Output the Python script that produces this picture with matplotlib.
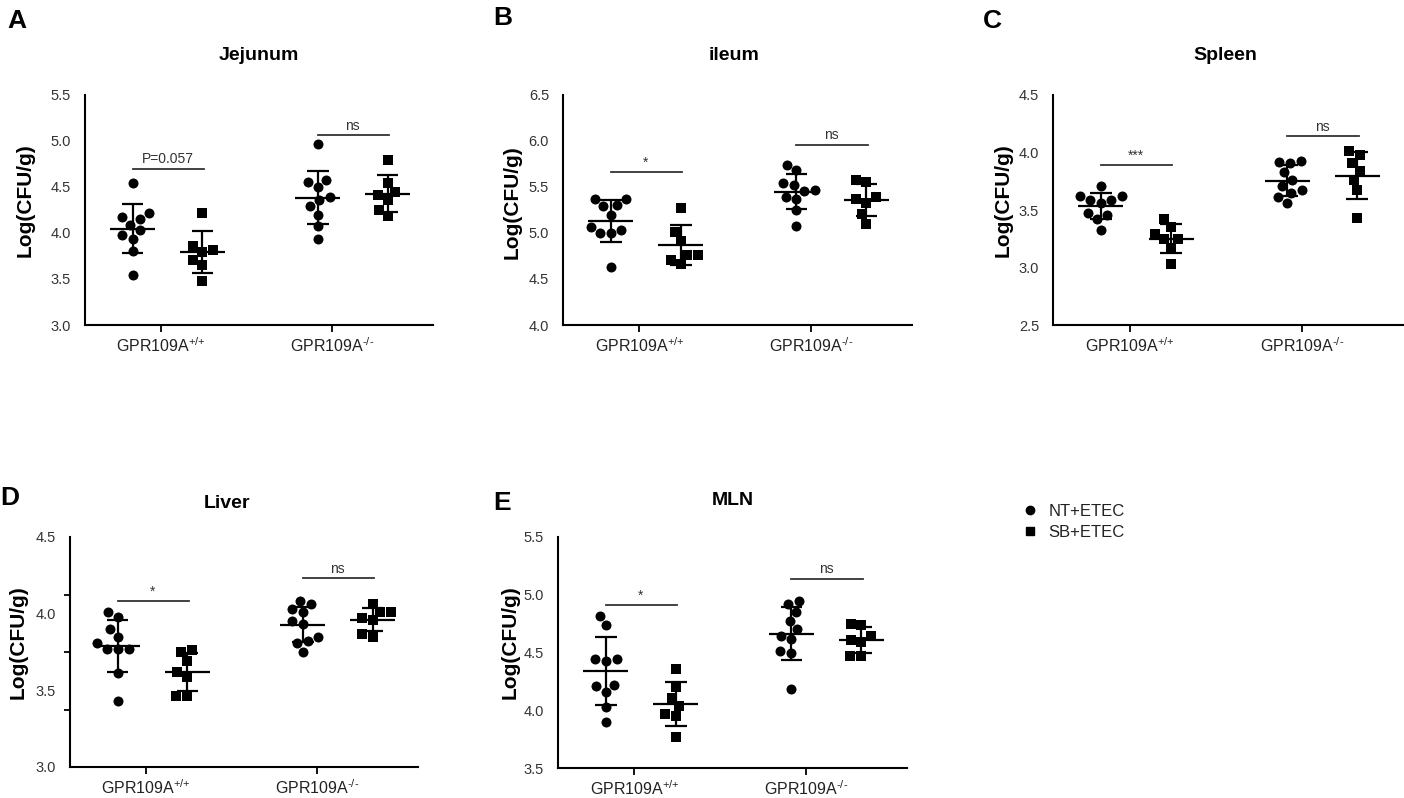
import numpy as np
import matplotlib
matplotlib.use('Agg')
import matplotlib.pyplot as plt
from matplotlib.lines import Line2D

plt.rcParams['font.family'] = ['Liberation Sans', 'DejaVu Sans']
plt.rcParams['mathtext.default'] = 'regular'

# ---------------- data ----------------
groups = ['GPR109A$^{{+}/{+}}$', 'GPR109A$^{\u2010/\u2010}$']
treatments = ['NT+ETEC', 'SB+ETEC']
panel_letters = ['A', 'B', 'C', 'D', 'E']
tissues = ['Jejunum', 'ileum', 'Spleen', 'Liver', 'MLN']
ylabel = 'Log(CFU/g)'

jejunum_nt_wt = [4.54, 4.17, 4.09, 4.15, 4.22, 3.94, 3.98, 4.03, 3.80, 3.54]
jejunum_sb_wt = [4.22, 3.82, 3.86, 3.79, 3.71, 3.65, 3.48]
jejunum_nt_ko = [4.97, 4.50, 4.58, 4.55, 4.36, 4.29, 4.39, 4.20, 4.08, 3.93]
jejunum_sb_ko = [4.79, 4.54, 4.41, 4.45, 4.36, 4.25, 4.18]

ileum_nt_wt = [5.30, 5.37, 5.37, 5.29, 5.20, 5.07, 5.00, 5.00, 5.03, 4.63]
ileum_sb_wt = [5.27, 5.01, 4.91, 4.76, 4.76, 4.66, 4.71]
ileum_nt_ko = [5.74, 5.68, 5.52, 5.54, 5.37, 5.46, 5.47, 5.39, 5.25, 5.08]
ileum_sb_ko = [5.55, 5.58, 5.37, 5.39, 5.33, 5.21, 5.10]

spleen_nt_wt = [3.71, 3.62, 3.59, 3.59, 3.62, 3.56, 3.47, 3.46, 3.42, 3.33]
spleen_sb_wt = [3.42, 3.35, 3.29, 3.245, 3.245, 3.17, 3.03]
spleen_nt_ko = [3.92, 3.91, 3.93, 3.83, 3.76, 3.71, 3.65, 3.67, 3.61, 3.56]
spleen_sb_ko = [4.01, 3.98, 3.91, 3.84, 3.76, 3.67, 3.43]

liver_nt_wt = [4.01, 3.98, 3.90, 3.85, 3.81, 3.77, 3.77, 3.77, 3.61, 3.43]
liver_sb_wt = [3.76, 3.75, 3.69, 3.62, 3.59, 3.46, 3.46]
liver_nt_ko = [4.08, 4.03, 4.06, 4.01, 3.93, 3.95, 3.82, 3.85, 3.81, 3.75]
liver_sb_ko = [4.06, 4.01, 4.01, 3.97, 3.96, 3.85, 3.87]

mln_nt_wt = [4.82, 4.74, 4.44, 4.43, 4.44, 4.21, 4.16, 4.22, 4.03, 3.90]
mln_sb_wt = [4.36, 4.20, 4.11, 4.04, 3.97, 3.95, 3.77]
mln_nt_ko = [4.92, 4.95, 4.85, 4.77, 4.70, 4.64, 4.62, 4.51, 4.50, 4.18]
mln_sb_ko = [4.74, 4.75, 4.61, 4.64, 4.59, 4.47, 4.47]

# significance labels (WT comparison, KO comparison) and bar heights
sig_labels = [['P=0.057', 'ns'], ['*', 'ns'], ['***', 'ns'], ['*', 'ns'], ['*', 'ns']]
sig_heights = [[4.70, 5.06], [5.66, 5.96], [3.89, 4.14], [4.08, 4.23], [4.91, 5.135]]

# y-axis ranges, tick labels and tick marks
ylims = [(3.0, 5.5), (4.0, 6.5), (2.5, 4.5), (3.0, 4.5), (3.5, 5.5)]
ytick_labels = [[3.0, 3.5, 4.0, 4.5, 5.0, 5.5],
                [4.0, 4.5, 5.0, 5.5, 6.0, 6.5],
                [2.5, 3.0, 3.5, 4.0, 4.5],
                [3.0, 3.5, 4.0, 4.5],
                [3.5, 4.0, 4.5, 5.0, 5.5]]
ytick_marks = [[3.0, 3.5, 4.0, 4.5, 5.0, 5.5],
               [4.0, 4.5, 5.0, 5.5, 6.0, 6.5],
               [2.5, 3.0, 3.5, 4.0, 4.5],
               [3.0, 3.375, 3.75, 4.125, 4.5],
               [3.5, 4.0, 4.5, 5.0, 5.5]]

panels = [
    [jejunum_nt_wt, jejunum_sb_wt, jejunum_nt_ko, jejunum_sb_ko],
    [ileum_nt_wt, ileum_sb_wt, ileum_nt_ko, ileum_sb_ko],
    [spleen_nt_wt, spleen_sb_wt, spleen_nt_ko, spleen_sb_ko],
    [liver_nt_wt, liver_sb_wt, liver_nt_ko, liver_sb_ko],
    [mln_nt_wt, mln_sb_wt, mln_nt_ko, mln_sb_ko],
]

# ---------------- layout ----------------
W, H = 1404, 798
fig = plt.figure(figsize=(W / 100, H / 100), dpi=100)

# axes rectangles in pixels: left, top, right, bottom
rects = [(85, 95, 433, 325), (563, 95, 912, 325), (1053, 95, 1403, 325),
         (70, 537, 418, 767), (558, 537, 907, 768)]
title_x = [0.5, 0.49, 0.493, 0.451, 0.5]
title_base_px = [60, 60, 60, 508, 505]
letter_pos = [(17, 28), (503, 25), (992, 28), (10, 505), (502, 510)]
ylabel_px = [(25, 200), (512, 202), (1003, 200), (18, 642), (510, 642)]

xpos = [0.0, 1.0, 2.65, 3.65]
xticks = [0.41, 2.86]
xlim = (-0.68, 4.3)
markers = ['o', 's', 'o', 's']
msizes = [7.2, 6.9, 7.2, 6.9]


def swarm(ypx, d):
    order = np.argsort(ypx)
    placed = []
    xs = np.zeros(len(ypx))
    for i in order:
        y = ypx[i]
        cands = [0.0]
        for px, py in placed:
            dy = abs(y - py)
            if dy < d:
                dx = np.sqrt(d * d - dy * dy)
                cands += [px + dx, px - dx]
        cands.sort(key=lambda c: (abs(c), c))
        for c in cands:
            if all((c - px) ** 2 + (y - py) ** 2 >= d * d - 1e-6 for px, py in placed):
                xs[i] = c
                break
        placed.append((xs[i], y))
    return xs


lw_spine = 1.5
for k, (l, t, r, b) in enumerate(rects):
    ax = fig.add_axes([l / W, 1 - b / H, (r - l) / W, (b - t) / H])
    ax.set_xlim(*xlim)
    ax.set_ylim(*ylims[k])
    for s in ['top', 'right']:
        ax.spines[s].set_visible(False)
    for s in ['left', 'bottom']:
        ax.spines[s].set_linewidth(lw_spine)

    # data points, mean and SD
    ppu_x = ax.transData.transform((1, 0))[0] - ax.transData.transform((0, 0))[0]
    for j, vals in enumerate(panels[k]):
        v = np.asarray(vals, dtype=float)
        ypx = ax.transData.transform(np.column_stack([np.zeros_like(v), v]))[:, 1]
        offs = swarm(ypx, 11.0) / ppu_x
        ax.plot(xpos[j] + offs, v, ls='none', marker=markers[j], ms=msizes[j],
                mfc='black', mec='black', mew=0, zorder=2,
                label=treatments[j % 2])
        m = v.mean()
        sd = v.std(ddof=1)
        ax.hlines(m, xpos[j] - 0.32, xpos[j] + 0.32, color='black', lw=1.6, zorder=3)
        ax.vlines(xpos[j], m - sd, m + sd, color='black', lw=1.6, zorder=3)
        ax.hlines([m - sd, m + sd], xpos[j] - 0.155, xpos[j] + 0.155,
                  color='black', lw=1.6, zorder=3)

    # significance bars
    for g in range(2):
        x0, x1 = xpos[2 * g], xpos[2 * g + 1]
        yb = sig_heights[k][g]
        ax.plot([x0, x1 + 0.02], [yb, yb], color='#333333', lw=1.3, zorder=3)
        ax.annotate(sig_labels[k][g], xy=((x0 + x1) / 2, yb), xytext=(0, 2),
                    textcoords='offset points', ha='center', va='bottom',
                    fontsize=10, color='#333333')

    # x axis
    ax.set_xticks(xticks)
    ax.set_xticklabels(groups, fontsize=11.5, color='#222222')
    ax.tick_params(axis='x', direction='out', length=5, width=1.3, pad=3)

    # y axis: labels on major ticks (no mark), marks on minor ticks
    ax.set_yticks(ytick_labels[k])
    ax.set_yticklabels([f'{y:.1f}' for y in ytick_labels[k]], fontsize=10.5, color='#333333')
    ax.set_yticks(ytick_marks[k], minor=True)
    ax.tick_params(axis='y', which='major', length=0, pad=10)
    ax.tick_params(axis='y', which='minor', direction='out', length=4.5, width=1.3)

    ax.set_ylabel(ylabel, fontsize=15, fontweight='bold', va='center', ha='center')
    lx, ly = ylabel_px[k]
    ax.yaxis.set_label_coords((lx - l) / (r - l), (b - ly) / (b - t))

    ax.set_title(tissues[k], x=title_x[k], y=1 + (t - title_base_px[k]) / (b - t),
                 va='baseline', pad=0, fontsize=14, fontweight='bold')

    fig.text(letter_pos[k][0] / W, 1 - letter_pos[k][1] / H, panel_letters[k],
             ha='center', va='baseline', fontsize=19, fontweight='bold')

handles = [Line2D([], [], ls='none', marker='o', ms=6, color='black'),
           Line2D([], [], ls='none', marker='s', ms=5.5, color='black')]
fig.legend(handles, treatments, loc='center left',
           bbox_to_anchor=(1022 / W, 1 - 522 / H), frameon=False,
           handlelength=1.0, handletextpad=0.6, labelspacing=0.4,
           borderpad=0, borderaxespad=0, fontsize=12, labelcolor='#222222')

fig.savefig('out.png', dpi=100)
